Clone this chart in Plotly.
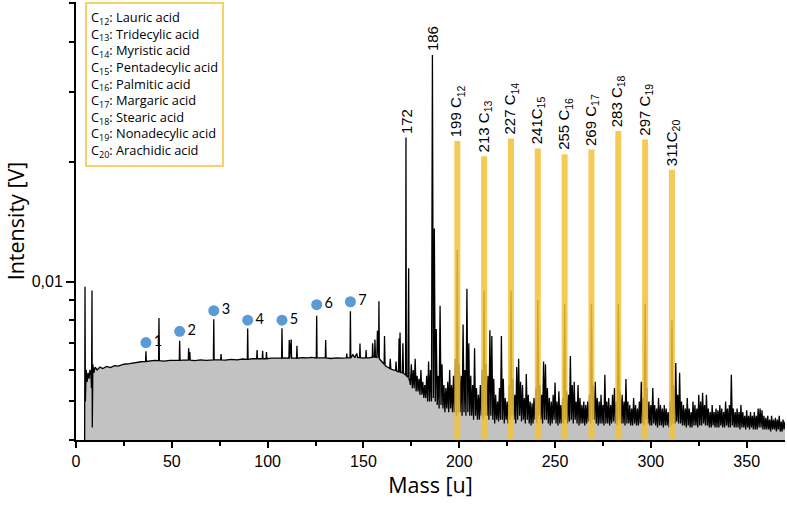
import math
import plotly.graph_objects as go

# ---------------- data (intensities in units of 1e-4 V) ----------------
low_mass = [4.5, 4.7, 4.9, 5.3, 5.8, 6.3, 6.8, 7.3, 7.8, 8.1, 8.35, 8.5, 8.8, 9.3, 10, 11, 12.5, 14, 16, 18, 20, 22, 25, 28, 31, 34,
            36.3, 36.5, 36.7, 39, 41, 43.1, 43.3, 43.5, 46, 49, 52, 53.9, 54.1, 54.3, 56, 58.6, 58.8, 59.0, 59.4, 59.6, 62, 65, 68,
            71.7, 71.9, 72.1, 75.5, 75.7, 75.9, 78, 81, 84, 87, 89.4, 89.6, 89.8, 92, 94.3, 94.5, 94.7, 97.2, 97.4, 97.6,
            99.2, 99.4, 99.6, 102, 105, 107.3, 107.5, 107.7, 109, 111.1, 111.3, 111.5, 112.3, 112.5, 115.1, 115.3, 115.5,
            118, 121, 123, 125.4, 125.6, 125.8, 128, 130.1, 130.3, 130.5, 133, 136, 139, 141.1, 141.3, 141.5, 143.0, 143.2, 143.4,
            144.5, 145.5, 146.5, 147, 148.0, 148.2, 148.4, 150, 151.2, 151.4, 151.6, 153, 154.6, 154.8, 155.1, 155.8, 156.0, 156.3,
            157.0, 157.3, 157.6, 157.9, 158.1, 158.3, 159.5, 160.8, 161.0, 161.3, 162.5, 163.7, 164.0, 164.3, 165.5, 166.8, 167.0,
            167.3, 168.3, 168.6, 168.9, 169.1, 169.4, 170.3, 170.6, 170.9, 171.5, 172.0, 172.2, 172.4, 173.2, 173.6, 173.8]
low_int = [38, 97, 50, 60, 56, 59, 57, 60, 58, 54, 95, 43, 62, 59, 61, 60, 61, 60.5, 61.2, 60.8, 61.5, 61.3, 62, 62.2, 62.6, 62.9,
           63, 66.8, 63, 63.2, 63.4, 63.3, 81, 63.3, 63.1, 63.4, 63.3, 63.4, 71, 63.4, 63.5, 63.5, 68, 63.5, 66.5, 63.5, 63.3, 63.6, 63.4,
           63.6, 80.4, 63.6, 63.6, 65.8, 63.6, 63.5, 63.8, 63.6, 63.9, 63.8, 76.2, 63.8, 64, 64, 67.3, 64, 64, 67, 64,
           64, 66.5, 64, 64.2, 64.1, 64.2, 76.4, 64.2, 64.3, 64.2, 71.3, 64.2, 71.5, 64.2, 64.2, 69, 64.2,
           64.4, 64.3, 64.5, 64.3, 82.1, 64.3, 64.2, 64.3, 71.3, 64.3, 64.1, 64.3, 64.2, 64.3, 66, 64.3, 64.3, 84.2, 64.3,
           65.5, 64.4, 66, 64.4, 64.4, 69.9, 64.4, 64.2, 64.4, 67.3, 64.4, 64.3, 64.6, 70, 64.6, 64.6, 71.5, 64.6,
           64.5, 75.3, 64.5, 64.4, 89.2, 64, 63, 62, 73, 61.5, 61, 60.5, 64, 60.3, 60, 59.8, 63,
           59.6, 59.3, 72, 59.2, 74.5, 59.1, 59, 70, 58.8, 58.5, 58.3, 230, 58, 57.5, 108, 56.5]

hi_mass = list(range(174, 371))
hi_top = [57, 62, 60, 64, 58, 57, 60, 56, 55, 58,
          63, 60, 371, 136, 76, 58, 87, 62, 55, 54,
          56, 60, 55, 58, 64, 120, 62, 58, 78, 60,
          96, 70, 58, 55, 68, 54, 52, 55, 60, 95,
          62, 58, 75.5, 73, 57, 52, 50, 54, 73, 57,
          51, 50, 55, 95, 57, 52, 61, 64, 56, 55,
          51, 58.6, 52, 50, 49.5, 51, 54, 90, 55, 52,
          63, 62, 54, 51, 50, 52, 55.8, 50, 53, 49,
          51, 88, 53, 52, 65, 55, 56, 50, 55, 51,
          49, 50, 49, 50, 52, 88, 55, 56, 51, 50,
          52, 49, 58.3, 50, 51, 49, 52, 54, 50, 88,
          53, 52, 50, 56.9, 50, 49, 48, 51, 49, 48,
          50, 56, 51, 88, 54, 50, 49, 54, 49, 48,
          51, 49, 48, 49, 48, 47, 50, 80, 55, 62.4,
          52, 59, 50, 49, 48, 51, 48, 47, 50, 49,
          48, 52, 50, 52.6, 49, 52, 48, 47, 49, 47,
          48, 47.5, 49, 48, 47, 50, 48, 49, 58.3, 48,
          47, 48, 47, 49, 47, 46, 47.5, 46, 47, 46,
          47, 46, 48, 48, 47.5, 46, 45.5, 46, 45, 46,
          45, 45.5, 45, 46, 44.5, 45, 44.5]
hi_valley = [55, 54, 54, 53, 53, 52, 52, 51, 51, 50,
             50, 50, 51, 50, 49, 48, 49, 48, 47, 48,
             47, 48, 47, 47, 46, 47, 47, 46, 47, 46,
             47, 46, 46, 45, 46, 45, 45, 46, 45, 46,
             46, 45, 46, 45, 44, 45, 44.5, 45, 45, 44,
             45, 44, 45, 46, 45, 44, 45, 46, 44.5, 45,
             44, 45, 44, 43.5, 44, 45, 44, 46, 45, 44,
             45, 45, 44, 43.5, 44, 45, 44, 43.5, 44, 44,
             44, 45, 44, 44.5, 45, 44, 45, 44, 43.5, 44,
             44, 43.5, 44, 44.5, 44, 45, 45, 44, 43.5, 44,
             44, 43.5, 44, 44, 43.5, 44, 44.5, 44, 43.5, 45,
             44, 44, 43.5, 44, 44, 43.5, 43.5, 44, 43.5, 43.5,
             44, 44, 43.5, 45, 44, 43.5, 43.5, 44, 43.5, 43,
             43.5, 43.5, 43, 43.5, 43.5, 43, 43.5, 44, 44, 44.5,
             44, 44, 43.5, 43.5, 43, 43.5, 43, 43, 43.5, 43.5,
             43, 43.5, 43.5, 44, 43.5, 43.5, 43, 43, 43.5, 43,
             43, 43, 43.5, 43, 43, 43.5, 43, 43, 43.5, 43,
             43, 43, 42.5, 43, 43, 42.5, 43, 42.5, 43, 42.5,
             42.5, 42.5, 43, 43, 42.5, 42.5, 42.5, 42.5, 42, 42.5,
             42.5, 42, 42.5, 42, 42, 42.5, 42]

acid_mass = [199, 213, 227, 241, 255, 269, 283, 297, 311]
acid_top = [225.6, 206.5, 228.8, 216, 209, 214.7, 239, 227.5, 191]
acid_label = ["199 C<sub>12</sub>", "213 C<sub>13</sub>", "227 C<sub>14</sub>", "241C<sub>15</sub>", "255 C<sub>16</sub>",
              "269 C<sub>17</sub>", "283 C<sub>18</sub>", "297 C<sub>19</sub>", "311C<sub>20</sub>"]

mark_mass = [36.5, 54.1, 71.9, 89.6, 107.5, 125.6, 143.2]
mark_int = [70.3, 75, 84.5, 80, 80, 87.5, 89]
mark_label = ["1", "2", "3", "4", "5", "6", "7"]

peak_mass = [172.2, 186.1]
peak_top = [230, 371]
peak_label = ["172", "186"]

legend_lines = ["C<sub>12</sub>: Lauric acid", "C<sub>13</sub>: Tridecylic acid", "C<sub>14</sub>: Myristic acid",
                "C<sub>15</sub>: Pentadecylic acid", "C<sub>16</sub>: Palmitic acid", "C<sub>17</sub>: Margaric acid",
                "C<sub>18</sub>: Stearic acid", "C<sub>19</sub>: Nonadecylic acid", "C<sub>20</sub>: Arachidic acid"]

x_ticks = [0, 50, 100, 150, 200, 250, 300, 350]
y_minor = [0.004, 0.005, 0.006, 0.007, 0.008, 0.009, 0.02, 0.03, 0.04, 0.05]
SCALE = 1e-4
Y_MIN, Y_MAX = 0.004, 0.0504
FLOOR = 0.003

# ---------------- build spectrum ----------------
spec_x = list(low_mass)
spec_y = [v * SCALE for v in low_int]
for m, t, v in zip(hi_mass, hi_top, hi_valley):
    spec_x += [m, m + 0.5]
    spec_y += [t * SCALE, v * SCALE]

fig = go.Figure()
# floor for the grey fill
fig.add_trace(go.Scatter(x=[spec_x[0], spec_x[-1]], y=[FLOOR, FLOOR], mode="lines",
                         line=dict(width=0, color="rgba(0,0,0,0)"), hoverinfo="skip", showlegend=False))
fig.add_trace(go.Scatter(x=spec_x, y=spec_y, mode="lines", fill="tonexty", fillcolor="#C2C2C2",
                         line=dict(color="black", width=1.3), showlegend=False))

# yellow acid bars
bx, by = [], []
for m, t in zip(acid_mass, acid_top):
    bx += [m, m, None]
    by += [FLOOR, t * SCALE, None]
fig.add_trace(go.Scatter(x=bx, y=by, mode="lines", line=dict(color="#F3C23A", width=6),
                         opacity=0.85, showlegend=False))

# blue markers
fig.add_trace(go.Scatter(x=mark_mass, y=[v * SCALE for v in mark_int], mode="markers+text",
                         marker=dict(color="#5B9BD5", size=11), text=mark_label, textposition="middle right",
                         textfont=dict(family="Lato", size=14.5, color="black"), showlegend=False))

# annotations on a log axis take log10 positions
for m, t, lab in zip(acid_mass + peak_mass, acid_top + peak_top, acid_label + peak_label):
    fig.add_annotation(x=m, y=math.log10(t * SCALE), xref="x", yref="y", text=lab, textangle=-90, showarrow=False,
                       xanchor="center", yanchor="bottom", yshift=2,
                       font=dict(family="Liberation Sans", size=15, color="black"))

fig.add_annotation(xref="paper", yref="paper", x=0.0127, y=1.0, xanchor="left", yanchor="top",
                   text="<br>".join(legend_lines), align="left", showarrow=False,
                   bordercolor="#F6D264", borderwidth=2, borderpad=4, bgcolor="white",
                   font=dict(family="Open Sans", size=12.8, color="black"))

fig.update_xaxes(range=[0, 370], tickvals=x_ticks, ticks="outside", ticklen=6, tickwidth=1.5, tickcolor="black",
                 showline=True, linecolor="black", linewidth=2, showgrid=False, zeroline=False, automargin=False,
                 minor=dict(dtick=25, tick0=0, ticks="outside", ticklen=4, tickcolor="black", tickwidth=1.5, showgrid=False),
                 tickfont=dict(family="Liberation Sans", size=16, color="black"),
                 title=dict(text="Mass [u]", font=dict(family="Open Sans", size=21.5, color="black"), standoff=6))
fig.update_yaxes(type="log", range=[math.log10(Y_MIN), math.log10(Y_MAX)], tickvals=[0.01], ticktext=["0,01"],
                 ticks="outside", ticklen=8, tickwidth=1.5, tickcolor="black",
                 showline=True, linecolor="black", linewidth=2, showgrid=False, zeroline=False, automargin=False,
                 minor=dict(tickvals=y_minor, ticks="outside", ticklen=5, tickcolor="black", tickwidth=1.5, showgrid=False),
                 tickfont=dict(family="Liberation Sans", size=16, color="black"),
                 title=dict(text="Intensity [V]", font=dict(family="Open Sans", size=21.5, color="black"), standoff=1))

fig.update_layout(width=787, height=508, margin=dict(l=76, r=2, t=2, b=68),
                  plot_bgcolor="white", paper_bgcolor="white", showlegend=False)

# remove the browser's default 8px page margin so the figure sits at the window origin
fig.write_html("out.html", config={"displayModeBar": False},
               post_script="document.body.style.margin='0';document.body.style.overflow='hidden';")
